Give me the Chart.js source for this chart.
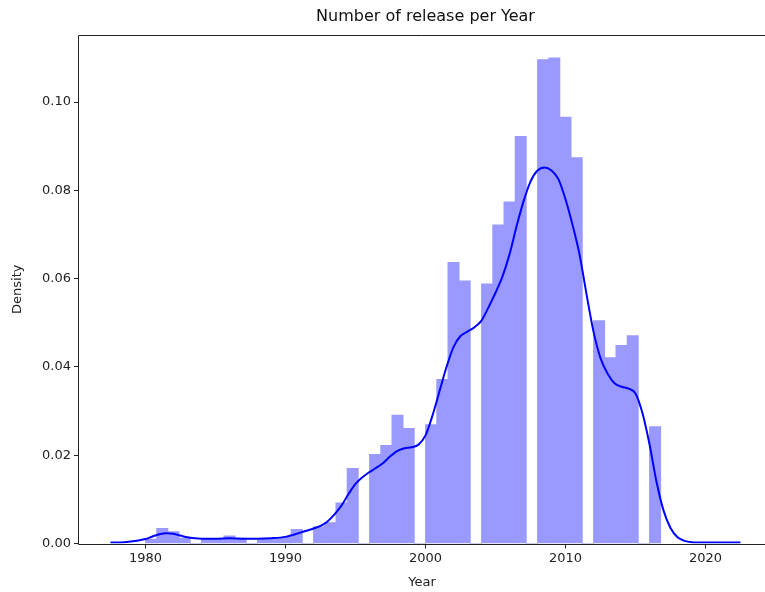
<!DOCTYPE html>
<html>
<head>
<meta charset="utf-8">
<script src="https://cdn.jsdelivr.net/npm/chart.js@4/dist/chart.umd.min.js"></script>
<style>
  html, body { margin: 0; padding: 0; background: #fff; overflow: hidden; }
  #wrap { width: 765px; height: 592px; }
</style>
</head>
<body>
<div id="wrap"><canvas id="chart" width="765" height="592"></canvas></div>
<script>
// Histograma: bins de 0.8 años desde 1980
const binStart = 1980;
const binWidth = 0.8;
const binDensity = [
  0.0010, 0.0034, 0.0027, 0.0012, 0, 0.0011, 0.0010, 0.0017, 0.0012, 0,
  0.0011, 0.0011, 0.0014, 0.0032, 0, 0.0038, 0.0047, 0.0092, 0.0170, 0,
  0.0202, 0.0222, 0.0291, 0.0261, 0, 0.0269, 0.0372, 0.0637, 0.0595, 0,
  0.0588, 0.0722, 0.0774, 0.0922, 0, 0.1096, 0.1100, 0.0966, 0.0874, 0,
  0.0505, 0.0421, 0.0449, 0.0471, 0, 0.0265
];

// Curva KDE (año, densidad)
const kdeYears = [
  1977.5, 1978.5, 1979.5, 1980, 1980.5, 1981, 1981.5, 1982, 1982.5, 1983, 1983.5,
  1984, 1985, 1986, 1987, 1988, 1989, 1990, 1990.5, 1991, 1991.5, 1992, 1992.5,
  1993, 1993.5, 1994, 1994.5, 1995, 1995.5, 1996, 1996.5, 1997, 1997.5, 1998,
  1998.5, 1999, 1999.5, 2000, 2000.5, 2001, 2001.5, 2002, 2002.5, 2003, 2003.5,
  2004, 2004.5, 2005, 2005.5, 2006, 2006.5, 2007, 2007.5, 2008, 2008.5, 2009,
  2009.5, 2010, 2010.5, 2011, 2011.5, 2012, 2012.5, 2013, 2013.5, 2014, 2014.5,
  2015, 2015.5, 2016, 2016.5, 2017, 2017.5, 2018, 2018.5, 2019, 2020, 2021, 2022.5
];
const kdeDensity = [
  0.0002, 0.0003, 0.0007, 0.0010, 0.0016, 0.0021, 0.0023, 0.0022, 0.0018, 0.0014, 0.0012,
  0.0011, 0.0011, 0.0012, 0.0011, 0.0011, 0.0012, 0.0015, 0.0019, 0.0024, 0.0029, 0.0034, 0.0040,
  0.0050, 0.0066, 0.0086, 0.0112, 0.0135, 0.0150, 0.0162, 0.0172, 0.0183, 0.0198, 0.0210,
  0.0216, 0.0218, 0.0224, 0.0245, 0.0290, 0.0345, 0.0400, 0.0445, 0.0470, 0.0480, 0.0490,
  0.0505, 0.0535, 0.0568, 0.0605, 0.0655, 0.0718, 0.0775, 0.0820, 0.0845, 0.0852, 0.0845,
  0.0825, 0.0780, 0.0722, 0.0655, 0.0565, 0.0480, 0.0420, 0.0385, 0.0363, 0.0355, 0.0351,
  0.0340, 0.0295, 0.0225, 0.0140, 0.0075, 0.0035, 0.0014, 0.0006, 0.0003, 0.0002, 0.0002, 0.0002
];

// Ticks
const xTicks = [1980, 1990, 2000, 2010, 2020];
const yTicks = [0, 0.02, 0.04, 0.06, 0.08, 0.10];

const titleText = 'Number of release per Year';
const fontFamily = "'DejaVu Sans', sans-serif";

const barPoints = binDensity.map((d, i) => ({ x: binStart + binWidth * (i + 0.5), y: d }));
const kdePoints = kdeYears.map((x, i) => ({ x, y: kdeDensity[i] }));

// Título centrado sobre los ejes (que siguen más allá del borde derecho) + marco
const framePlugin = {
  id: 'frame',
  afterDraw(chart) {
    const { ctx, chartArea: a } = chart;
    const fullRight = a.left + (a.right - a.left) * (49.5 / 49); // eje completo hasta 2024.75
    ctx.save();
    ctx.strokeStyle = '#222';
    ctx.lineWidth = 1;
    ctx.beginPath();
    ctx.moveTo(Math.round(a.left) - 0.5, Math.round(a.bottom) + 0.5);
    ctx.lineTo(Math.round(a.left) - 0.5, Math.round(a.top) + 0.5);
    ctx.lineTo(chart.width, Math.round(a.top) + 0.5);
    ctx.moveTo(Math.round(a.left) - 0.5, Math.round(a.bottom) + 0.5);
    ctx.lineTo(chart.width, Math.round(a.bottom) + 0.5);
    ctx.stroke();
    ctx.fillStyle = '#111';
    ctx.font = '16px ' + fontFamily;
    ctx.textAlign = 'center';
    ctx.textBaseline = 'middle';
    ctx.fillText(titleText, (a.left + fullRight) / 2, 17);
    ctx.restore();
  }
};

const tickFont = { family: fontFamily, size: 13 };

new Chart(document.getElementById('chart'), {
  type: 'bar',
  data: {
    datasets: [
      {
        type: 'line',
        data: kdePoints,
        borderColor: '#0000ff',
        borderWidth: 2,
        pointRadius: 0,
        cubicInterpolationMode: 'monotone',
        fill: false,
        order: 0
      },
      {
        type: 'bar',
        data: barPoints,
        backgroundColor: '#9999ff',
        borderWidth: 0,
        inflateAmount: 0.4,
        barPercentage: 1,
        categoryPercentage: 1,
        grouped: false,
        order: 1
      }
    ]
  },
  options: {
    responsive: false,
    animation: false,
    layout: { padding: { top: 35, right: 0, left: 0, bottom: 0 } },
    plugins: {
      legend: { display: false },
      tooltip: { enabled: false },
      title: { display: false }
    },
    scales: {
      x: {
        type: 'linear',
        offset: false,
        min: 1975.25,
        max: 2024.25,
        afterBuildTicks: s => { s.ticks = xTicks.map(v => ({ value: v })); },
        afterFit: s => { s.height = 48.5; },
        grid: { display: true, offset: false, drawOnChartArea: false, tickLength: 5, tickColor: '#222' },
        border: { display: false },
        ticks: { color: '#222', font: tickFont, padding: 2, maxRotation: 0, callback: v => String(v) },
        title: { display: true, text: 'Year', color: '#222', font: tickFont, padding: { top: 0, bottom: 2 } }
      },
      y: {
        min: 0,
        max: 0.1152,
        afterBuildTicks: s => { s.ticks = yTicks.map(v => ({ value: v })); },
        afterFit: s => { s.width = 79; },
        grid: { display: true, drawOnChartArea: false, tickLength: 5, tickColor: '#222' },
        border: { display: false },
        ticks: { color: '#222', font: tickFont, padding: 3, callback: v => v.toFixed(2) },
        title: { display: true, text: 'Density', color: '#222', font: tickFont, padding: { top: 10, bottom: 0 } }
      }
    }
  },
  plugins: [framePlugin]
});
</script>
</body>
</html>
